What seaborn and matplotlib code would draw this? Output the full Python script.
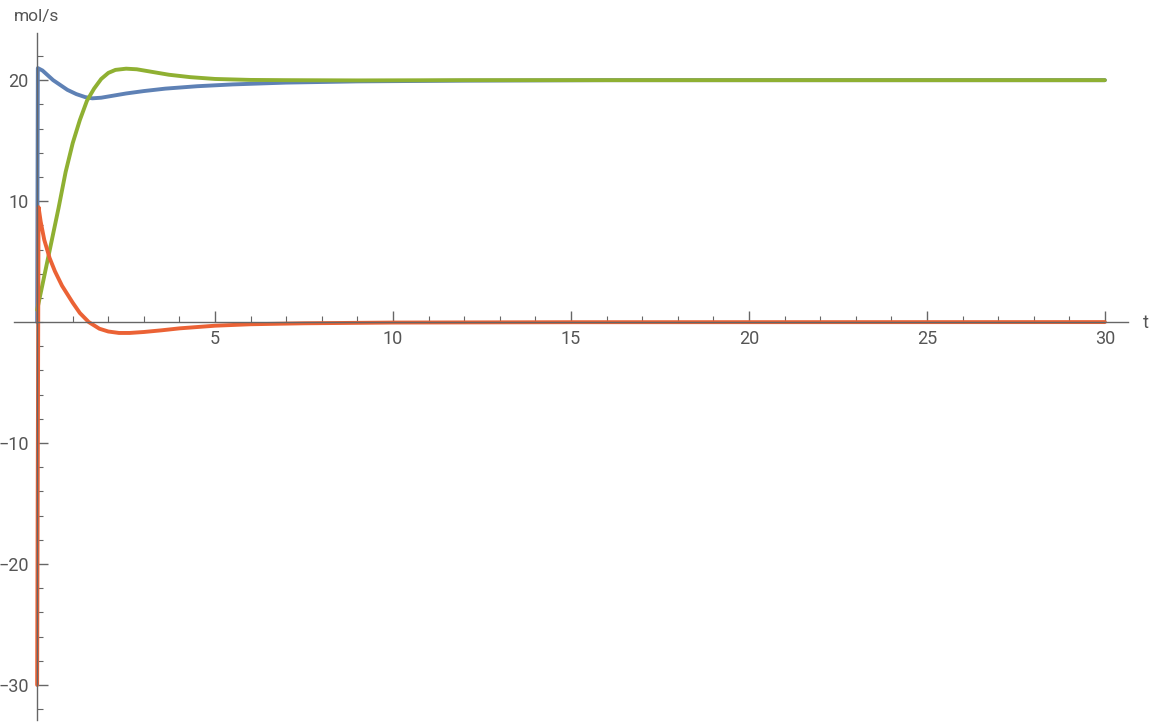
import numpy as np
import matplotlib
matplotlib.use("Agg")
import matplotlib.pyplot as plt
import seaborn as sns
import pandas as pd
from matplotlib.ticker import MultipleLocator, FixedLocator

# values
t_blue = [0, 0.02, 0.15, 0.3, 0.45, 0.65, 0.85, 1.1, 1.35, 1.55, 1.8, 2.1, 2.5, 3.0, 3.6, 4.5, 5.5, 7, 9, 12, 16, 20, 30]
y_blue = [0, 21.0, 20.8, 20.4, 20.0, 19.6, 19.2, 18.85, 18.6, 18.5, 18.55, 18.7, 18.9, 19.1, 19.3, 19.5, 19.65, 19.8, 19.9, 19.96, 20.0, 20.0, 20.0]

t_green = [0, 0.2, 0.4, 0.6, 0.8, 1.0, 1.2, 1.4, 1.6, 1.8, 2.0, 2.2, 2.5, 2.8, 3.2, 3.7, 4.3, 5, 6, 7, 9, 12, 30]
y_green = [1.0, 3.8, 6.6, 9.4, 12.4, 14.8, 16.7, 18.3, 19.3, 20.1, 20.6, 20.85, 20.95, 20.9, 20.7, 20.45, 20.25, 20.1, 20.02, 20.0, 19.98, 20.0, 20.0]

t_red = [0, 0.04, 0.1, 0.2, 0.35, 0.5, 0.7, 0.85, 1.0, 1.2, 1.45, 1.75, 2.0, 2.3, 2.6, 3.0, 3.5, 4.0, 5.0, 6.0, 7.5, 10, 15, 30]
y_red = [-30, 9.5, 8.3, 6.8, 5.3, 4.2, 3.0, 2.3, 1.6, 0.75, 0.0, -0.55, -0.78, -0.9, -0.9, -0.82, -0.68, -0.52, -0.3, -0.18, -0.1, -0.04, -0.01, 0]

series = ["s1", "s2", "s3"]
colors = ["#5E81B5", "#8FB032", "#EB6235"]

df = pd.concat([
    pd.DataFrame({"t": t_blue, "v": y_blue, "s": series[0]}),
    pd.DataFrame({"t": t_green, "v": y_green, "s": series[1]}),
    pd.DataFrame({"t": t_red, "v": y_red, "s": series[2]}),
], ignore_index=True)

sns.set_style("white")
plt.rcParams['font.family'] = ['Roboto', 'DejaVu Sans']

fig = plt.figure(figsize=(11.52, 7.25), dpi=100)
ax = fig.add_axes([14/1152, 5/725, 1114/1152, 687/725])

sns.lineplot(data=df, x="t", y="v", hue="s", palette=colors, sort=False,
             estimator=None, linewidth=2.8, legend=False, ax=ax)

ax.set_xlim(-0.65, 30.65)
ax.set_ylim(-32.9, 23.9)

gray = "#666666"
for side in ["top", "right"]:
    ax.spines[side].set_visible(False)
ax.spines["left"].set_position(("data", 0))
ax.spines["bottom"].set_position(("data", 0))
for side in ["left", "bottom"]:
    ax.spines[side].set_color(gray)
    ax.spines[side].set_linewidth(1.0)

ax.xaxis.set_major_locator(FixedLocator([5, 10, 15, 20, 25, 30]))
ax.xaxis.set_minor_locator(MultipleLocator(1))
ax.yaxis.set_major_locator(FixedLocator([-30, -20, -10, 10, 20]))
ax.yaxis.set_minor_locator(MultipleLocator(2))
ax.tick_params(which="both", bottom=True, left=True, direction="in",
               colors=gray, labelcolor="#555555", labelsize=13)
ax.tick_params(which="major", length=8, width=1, pad=6)
ax.tick_params(which="minor", length=4, width=0.8)
ax.set_xlabel("")
ax.set_ylabel("")

fig.text(14/1152, 1 - 16/725, "mol/s", ha="left", va="center", fontsize=12.5, color="#555555")
fig.text(1146/1152, 1 - 323/725, "t", ha="center", va="center", fontsize=13, color="#555555")

plt.savefig("out.png", dpi=100)
